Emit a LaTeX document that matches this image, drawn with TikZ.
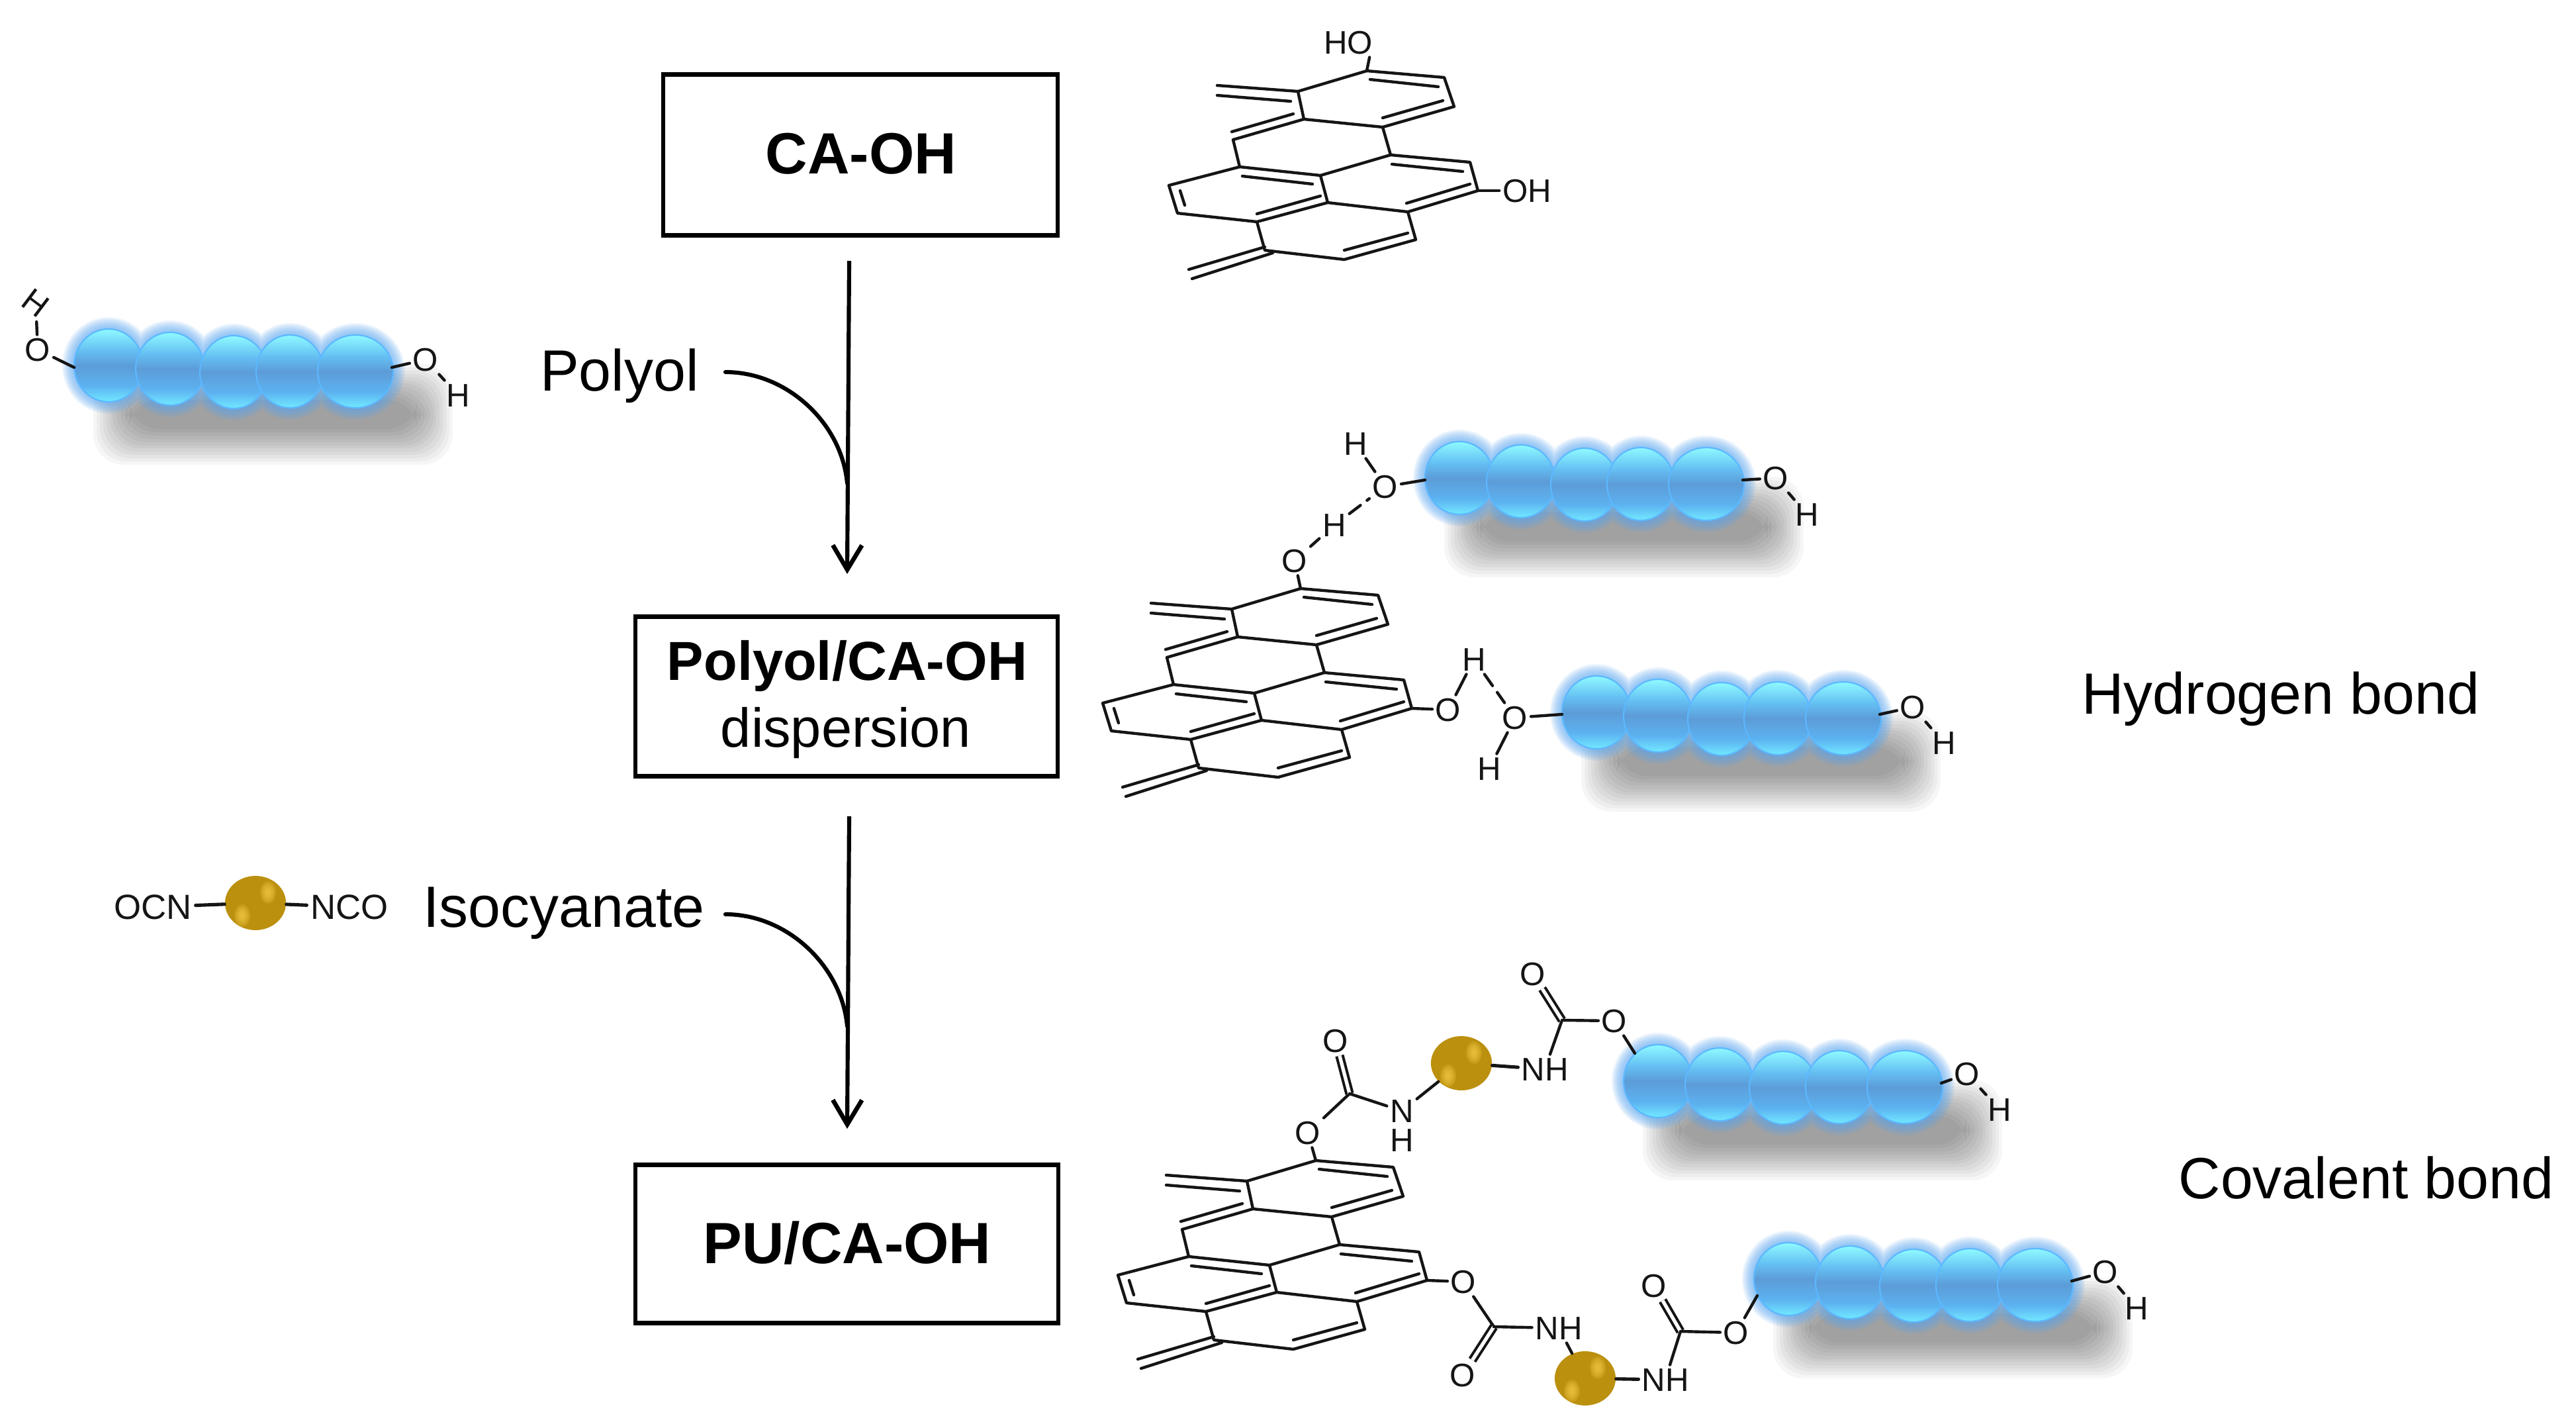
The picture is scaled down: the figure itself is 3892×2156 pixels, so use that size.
\documentclass[tikz,border=0pt]{standalone}
\usepackage{fontspec}
\setmainfont{Liberation Sans}
\usetikzlibrary{arrows.meta,shapes.geometric}
\definecolor{sbA}{HTML}{8CF6FF}
\definecolor{sbB}{HTML}{64BEF2}
\definecolor{sbC}{HTML}{5C9CD8}
\definecolor{sbD}{HTML}{5CB2F0}
\definecolor{sbE}{HTML}{70E4FF}
\definecolor{rimblue}{HTML}{5CB8FF}
\definecolor{glowblue}{HTML}{5AA8F2}
\definecolor{goldbase}{HTML}{BC900F}
\definecolor{goldhi}{HTML}{F8D24C}
\definecolor{inkc}{HTML}{151515}
\pgfdeclareverticalshading{sphereblue}{100bp}{color(0bp)=(sbE); color(26bp)=(sbE); color(36bp)=(sbD); color(50bp)=(sbC); color(60bp)=(sbB); color(74bp)=(sbA); color(100bp)=(sbA)}
\tikzset{
  bond/.style={draw=inkc,line width=1.25pt,line cap=round},
  hbond/.style={bond,dash pattern=on 6pt off 3.5pt},
  dblbond/.style={draw=inkc,double=white,line width=1.15pt,double distance=1.5pt},
  atom/.style={font=\fontsize{14}{16}\selectfont,text=inkc,inner sep=1.2pt,text height=10pt,text depth=0pt},
  reagent/.style={font=\fontsize{15}{17}\selectfont,text=inkc,inner sep=1.5pt,text height=10.7pt,text depth=0pt},
  stepbox/.style={draw=black,line width=1.75pt,fill=white},
  boldlabel/.style={font=\fontsize{25}{30}\selectfont\bfseries,anchor=base,inner sep=0pt},
  midlabel/.style={font=\fontsize{23.6}{28}\selectfont,anchor=base,inner sep=0pt},
  plainlabel/.style={font=\fontsize{25}{30}\selectfont,anchor=base,inner sep=0pt},
  flow/.style={draw=black,line width=1.75pt},
  flowtip/.style={flow,-{Straight Barb[length=10.5pt,width=12.5pt,line width=1.9pt]}},
  goldnode/.style={ellipse,fill=goldbase,draw=none,inner sep=0pt},
  sphere/.style={shading=sphereblue,draw=rimblue,line width=.6pt},
}
% union of the five spheres of a chain, grown by #1
\newcommand\sphereset[1]{
  (0,0) ellipse [x radius=52+#1,y radius=55+#1]
  (93,5) ellipse [x radius=52+#1,y radius=55+#1]
  (189,10) ellipse [x radius=51+#1,y radius=55+#1]
  (274,9) ellipse [x radius=51+#1,y radius=55+#1]
  (373,9) ellipse [x radius=57+#1,y radius=55+#1]}
% #1 name, #2 origin, #3 right O, #4 right H
\newcommand\polychain[4]{
  \begin{scope}[shift={(#2)}]
    \foreach \r in {27,22,17,12,7,2,-2,-7,-12,-17,-22,-27}
      \fill[black,opacity=.036,rounded corners=13pt] (4-\r,25-\r) rectangle (493+\r,123+\r);
    \foreach \r in {18,16,14,12,10,8,6,4,2}
      \fill[glowblue,opacity=.105] \sphereset{\r};
    \shadedraw[sphere] (0,0) ellipse [x radius=52,y radius=55];
    \shadedraw[sphere] (93,5) ellipse [x radius=52,y radius=55];
    \shadedraw[sphere] (189,10) ellipse [x radius=51,y radius=55];
    \shadedraw[sphere] (274,9) ellipse [x radius=51,y radius=55];
    \shadedraw[sphere] (373,9) ellipse [x radius=57,y radius=55];
    \coordinate (#1Rb) at (428,3);
    \coordinate (#1Lb) at (-52,3);
  \end{scope}
  \node[atom] (#1Or) at (#3) {O};
  \node[atom] (#1Hr) at (#4) {H};
  \draw[bond] (#1Rb) -- (#1Or);
  \draw[bond] (#1Or) -- (#1Hr);
}
% fused-ring core; drawn at its position for the first molecule, #1 is the shift
\newcommand\hexcore[1]{
  \begin{scope}[shift={(#1)}]
    \draw[bond,line join=round]
      (1961,138) -- (2065,107) -- (2182,117) -- (2197,161) -- (2089,192) -- (1970,180) -- cycle
      (1970,180) -- (1863,211) -- (1873,252) -- (1995,265) -- (2101,234) -- (2089,192)
      (2101,234) -- (2221,245) -- (2233,288) -- (2127,320) -- (2006,306) -- (1995,265)
      (2006,306) -- (1899,335) -- (1779,322) -- (1766,280) -- (1873,252)
      (1899,335) -- (1911,378) -- (2031,392) -- (2139,362) -- (2127,320)
      (2070,120) -- (2173,131)
      (2180,152) -- (2089,178)
      (1954,172) -- (1861,199)
      (2103,248) -- (2210,259)
      (2221,278) -- (2125,307)
      (1877,266) -- (1983,278)
      (1995,296) -- (1899,323)
      (1783,288) -- (1790,310)
      (2031,378) -- (2127,352)
      (1961,138) -- (1839,129)
      (1839,144) -- (1950,153)
      (1911,373) -- (1796,407)
      (1923,382) -- (1801,421);
  \end{scope}
}
% #1 name, #2 position
\newcommand\goldball[2]{
  \node[goldnode,minimum width=26.2pt,minimum height=23.3pt] (#1) at (#2) {};
  \begin{scope}[shift={(#2)}]
    \foreach \r in {17,14,11,8,5}{
      \fill[goldhi,opacity=.2] (19,-16) ellipse [x radius=\r*.7,y radius=\r];
      \fill[goldhi,opacity=.2] (-20,19) ellipse [x radius=\r*.7,y radius=\r];
    }
  \end{scope}
}
\begin{document}
\begin{tikzpicture}[x=0.01cm,y=-0.01cm]
\useasboundingbox (0,0) rectangle (3892,2156);
\fill[white] (0,0) rectangle (3892,2156);

% ---- process column
\node[stepbox,minimum width=596*0.01cm,minimum height=243*0.01cm] (box1) at (1300,234) {};
\node[stepbox,minimum width=638*0.01cm,minimum height=241*0.01cm] (box2) at (1279,1052) {};
\node[stepbox,minimum width=639*0.01cm,minimum height=239*0.01cm] (box3) at (1279.5,1879) {};
\node[boldlabel] (t1) at (1301,262) {CA-OH};
\node[boldlabel,font=\fontsize{23.6}{28}\selectfont\bfseries] (t2a) at (1280,1027) {Polyol/CA-OH};
\node[midlabel] (t2b) at (1278,1128) {dispersion};
\node[boldlabel] (t3) at (1280,1908) {PU/CA-OH};

\coordinate (a1s) at (1283,394);
\coordinate (a1e) at (1280,867);
\coordinate (c1s) at (1096,562);
\coordinate (c1e) at (1280,730);
\coordinate (a2s) at (1283,1233);
\coordinate (a2e) at (1280,1705);
\coordinate (c2s) at (1096,1381);
\coordinate (c2e) at (1280,1550);
\draw[flowtip] (a1s) -- (a1e);
\draw[flowtip] (a2s) -- (a2e);
\draw[flow,line cap=round] (c1s) .. controls (1190,562) and (1272,640) .. (c1e);
\draw[flow,line cap=round] (c2s) .. controls (1190,1381) and (1272,1460) .. (c2e);

\node[plainlabel] (lpolyol) at (936,590) {Polyol};
\node[plainlabel] (liso) at (852,1400) {Isocyanate};
\node[plainlabel] (lh) at (3446,1078) {Hydrogen bond};
\node[plainlabel] (lc) at (3575,1810) {Covalent bond};

% ---- reagents on the left
\polychain{pa}{164,552}{643,543}{692,597}
\node[atom] (paOl) at (57,528) {O};
\node[atom,rotate=-37] (paHl) at (54,457) {H};
\draw[bond] (paOl) -- (paHl);
\draw[bond] (paOl) -- (paLb);

\goldball{gi}{386,1364}
\node[reagent] (ocn) at (231,1370) {OCN};
\node[reagent] (nco) at (528,1370) {NCO};
\draw[bond,line width=1.45pt] (ocn) -- (gi);
\draw[bond,line width=1.45pt] (gi) -- (nco);

% ---- first molecule
\hexcore{0,0}
\coordinate (m1a) at (2065,107);
\coordinate (m1l) at (2233,288);
\node[atom] (m1HO) at (2037,64) {HO};
\node[atom] (m1OH) at (2307,288) {OH};
\draw[bond] (m1a) -- (m1HO.-35);
\draw[bond] (m1l) -- (m1OH);

% ---- hydrogen-bonded dispersion
\hexcore{-100,782}
\polychain{pb}{2205,722}{2683,722}{2730,777}
\polychain{pc}{2412,1076}{2890,1068}{2937,1122}
\coordinate (m2a) at (1965,889);
\coordinate (m2l) at (2133,1070);
\node[atom] (m2O1) at (1956,847) {O};
\node[atom] (m2H1) at (2016,793) {H};
\node[atom] (pbO) at (2093,735) {O};
\node[atom] (pbH) at (2048,670) {H};
\node[atom] (m2O2) at (2188,1072) {O};
\node[atom] (m2H2) at (2227,996) {H};
\node[atom] (pcO) at (2289,1084) {O};
\node[atom] (pcH) at (2250,1161) {H};
\draw[bond] (m2a) -- (m2O1);
\draw[bond] (m2O1) -- (m2H1);
\draw[hbond] (m2H1) -- (pbO);
\draw[bond] (pbO) -- (pbH);
\draw[bond] (pbO) -- (pbLb);
\draw[bond] (m2l) -- (m2O2);
\draw[bond] (m2O2) -- (m2H2);
\draw[hbond] (m2H2) -- (pcO);
\draw[bond] (pcO) -- (pcH);
\draw[bond] (pcO) -- (pcLb);

% ---- covalently bonded polyurethane
\hexcore{-77,1646}
\polychain{pd}{2505,1633}{2972,1622}{3021,1676}
\polychain{pe}{2702,1932}{3181,1921}{3228,1976}
\coordinate (m3a) at (1988,1753);
\coordinate (m3l) at (2156,1934);
% upper urethane chain
\node[atom] (uO1) at (1976,1711) {O};
\coordinate (uC1) at (2039,1652);
\node[atom] (uOd1) at (2018,1572) {O};
\node[atom] (uN) at (2118,1678) {N};
\node[atom] (uNH) at (2118,1722) {H};
\goldball{gu}{2208,1606}
\node[atom] (uNH2) at (2334,1615) {NH};
\coordinate (uC2) at (2360,1541);
\node[atom] (uOd2) at (2316,1471) {O};
\node[atom] (uO2) at (2439,1542) {O};
\coordinate (pdIn) at (2470,1591);
\draw[bond] (m3a) -- (uO1);
\draw[bond] (uO1) -- (uC1);
\draw[dblbond] (uC1) -- (uOd1);
\draw[bond] (uC1) -- (uN);
\draw[bond] (uN) -- (gu);
\draw[bond,line width=1.45pt] (gu) -- (uNH2);
\draw[bond] (uNH2) -- (uC2);
\draw[dblbond] (uC2) -- (uOd2);
\draw[bond] (uC2) -- (uO2);
\draw[bond] (uO2) -- (pdIn);
% lower urethane chain
\node[atom] (lO1) at (2211,1936) {O};
\coordinate (lC1) at (2257,2004);
\node[atom] (lOd1) at (2210,2077) {O};
\node[atom] (lNH1) at (2355,2006) {NH};
\goldball{gl}{2395,2082}
\node[atom] (lNH2) at (2516,2084) {NH};
\coordinate (lC2) at (2539,2011);
\node[atom] (lOd2) at (2499,1942) {O};
\node[atom] (lO2) at (2623,2013) {O};
\coordinate (peIn) at (2655,1957);
\draw[bond] (m3l) -- (lO1);
\draw[bond] (lO1) -- (lC1);
\draw[dblbond] (lC1) -- (lOd1);
\draw[bond] (lC1) -- (lNH1);
\draw[bond] (lNH1) -- (gl);
\draw[bond,line width=1.45pt] (gl) -- (lNH2);
\draw[bond] (lNH2) -- (lC2);
\draw[dblbond] (lC2) -- (lOd2);
\draw[bond] (lC2) -- (lO2);
\draw[bond] (lO2) -- (peIn);
\end{tikzpicture}
\end{document}
